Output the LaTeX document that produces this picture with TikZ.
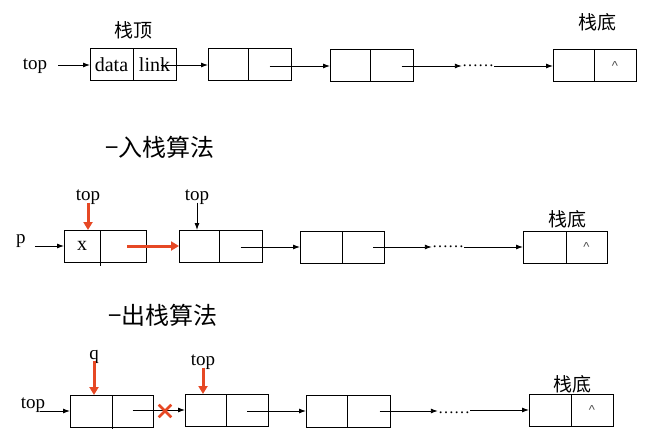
\documentclass[tikz,border=0pt]{standalone}
\usepackage{fontspec}
\setmainfont{Liberation Serif}
\newfontfamily\cjk{Noto Sans CJK SC}
\newfontfamily\hatfont{Liberation Sans}
\usetikzlibrary{arrows.meta,shapes.misc}
\definecolor{myred}{RGB}{230,72,36}
\begin{document}
\begin{tikzpicture}[x=1pt,y=-1pt,
  cell/.style={draw, line width=1pt, minimum height=32pt, inner sep=0pt, outer sep=0pt, anchor=north west, font=\fontsize{20}{22}\selectfont},
  arr/.style={-{Latex[length=7pt,width=5pt]}, line width=0.9pt},
  rarr/.style={-{Triangle[length=8pt,width=9pt]}, line width=3pt, draw=myred},
  lbl/.style={font=\fontsize{19}{21}\selectfont, inner sep=0pt},
  cn/.style={font=\cjk\fontsize{19}{21}\selectfont, inner sep=0pt},
  ttl/.style={font=\cjk\fontsize{24}{27}\selectfont, inner sep=0pt},
  dotsn/.style={font=\fontsize{16}{18}\selectfont, inner sep=0pt},
  hat/.style={font=\hatfont\fontsize{13}{14}\selectfont, text=black!70}]
\useasboundingbox (0,0) rectangle (651,444);

% ---------- row 1 ----------
\node[lbl] (top1) at (35,66) {top};
\node[cn] (zd1) at (133,30) {栈顶};
\node[cn] (zb1) at (597,22) {栈底};
\node[cell, minimum width=43pt] (a1d) at (90,49) {data};
\node[cell, minimum width=43pt] (a1l) at (133,49) {link};
\node[cell, minimum width=40pt] (b1L) at (208,49) {};
\node[cell, minimum width=43pt] (b1R) at (248,49) {};
\node[cell, minimum width=40pt] (c1L) at (330,50) {};
\node[cell, minimum width=43pt] (c1R) at (370,50) {};
\node[dotsn] (dots1) at (478,66) {……};
\node[cell, minimum width=41pt] (d1L) at (553,50) {};
\node[cell, minimum width=42pt, hat] (d1R) at (594,50) {\textasciicircum};
\draw[arr] ([xshift=11pt]top1.east |- a1d.west) -- (a1d.west);
\draw[arr] ([xshift=6pt]a1l.center |- b1L.west) -- (b1L.west);
\draw[arr] (b1R.center |- c1L.west) -- (c1L.west);
\draw[arr] ([xshift=10pt]c1R.center) -- (dots1.west |- c1R.center);
\draw[arr] (dots1.east |- d1L.west) -- (d1L.west);

% ---------- title 2 ----------
\node[ttl] (t2) at (160,147) {−入栈算法};

% ---------- row 2 ----------
\node[lbl] (p2) at (21,241) {p};
\node[lbl] (top2a) at (88,197) {top};
\node[lbl] (top2b) at (197,197) {top};
\node[cn] (zb2) at (567,219) {栈底};
\node[cell, minimum width=36pt] (a2L) at (64,230) {x};
\node[cell, minimum width=46pt] (a2R) at (100,230) {};
\draw[line width=1pt] (a2L.south east) -- ++(0,4);
\node[cell, minimum width=40pt] (b2L) at (179,230) {};
\node[cell, minimum width=43pt] (b2R) at (219,230) {};
\node[cell, minimum width=42pt] (c2L) at (300,231) {};
\node[cell, minimum width=42pt] (c2R) at (342,231) {};
\node[dotsn] (dots2) at (448,247) {……};
\node[cell, minimum width=43pt] (d2L) at (523,231) {};
\node[cell, minimum width=41pt, hat] (d2R) at (566,231) {\textasciicircum};
\draw[arr] ([xshift=9pt]p2.east |- a2L.west) -- (a2L.west);
\draw[rarr] ([xshift=4pt]a2R.center |- b2L.west) -- (b2L.west);
\draw[arr] (b2R.center |- c2L.west) -- (c2L.west);
\draw[arr] ([xshift=10pt]c2R.center) -- (dots2.west |- c2R.center);
\draw[arr] (dots2.east |- d2L.west) -- (d2L.west);
\draw[rarr] ([yshift=2pt]top2a.south) -- (top2a.south |- a2L.north);
\draw[arr] ([yshift=2pt]top2b.south) -- (top2b.south |- b2L.north);

% ---------- title 3 ----------
\node[ttl] (t3) at (163,315) {−出栈算法};

% ---------- row 3 ----------
\node[lbl] (top3) at (33,405) {top};
\node[lbl] (q3) at (94,357) {q};
\node[lbl] (top3b) at (203,362) {top};
\node[cn] (zb3) at (572,384) {栈底};
\node[cell, minimum width=42pt] (a3L) at (70,395) {};
\node[cell, minimum width=41pt] (a3R) at (112,395) {};
\draw[line width=1pt] (a3L.south east) -- ++(0,2);
\node[cell, minimum width=41pt] (b3L) at (185,394) {};
\node[cell, minimum width=42pt] (b3R) at (226,394) {};
\node[cell, minimum width=41pt] (c3L) at (306,395) {};
\node[cell, minimum width=43pt] (c3R) at (347,395) {};
\node[dotsn] (dots3) at (454,413) {……};
\node[cell, minimum width=42pt] (d3L) at (529,394) {};
\node[cell, minimum width=42pt, hat] (d3R) at (571,394) {\textasciicircum};
\draw[arr] ([xshift=-5pt]top3.east |- a3L.west) -- (a3L.west);
\draw[arr] (a3R.center |- b3L.west) -- (b3L.west);
\node[cross out, draw=myred, line width=2.6pt, minimum size=10pt, inner sep=0pt] (x3) at (165,411) {};
\draw[arr] (b3R.center |- c3L.west) -- (c3L.west);
\draw[arr] ([xshift=11pt]c3R.center) -- (dots3.west |- c3R.center);
\draw[arr] (dots3.east |- d3L.west) -- (d3L.west);
\draw[rarr] ([yshift=3pt]q3.south) -- (q3.south |- a3L.north);
\draw[rarr] ([yshift=2pt]top3b.south) -- (top3b.south |- b3L.north);
\end{tikzpicture}
\end{document}
